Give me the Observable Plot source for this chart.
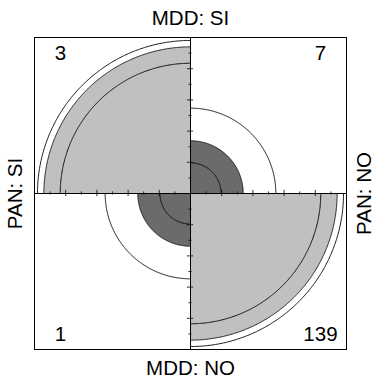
<!DOCTYPE html>
<html><head><meta charset="utf-8">
<script src="https://cdn.jsdelivr.net/npm/d3@7"></script>
<script src="https://cdn.jsdelivr.net/npm/@observablehq/plot@0.6"></script>
<style>body{margin:0;background:#fff;} svg{display:block}</style>
</head><body><div id="chart"></div>
<script>
// Cells of the 2x2 table (PAN x MDD)
const cells = ["PAN: SI / MDD: SI", "PAN: NO / MDD: SI", "PAN: SI / MDD: NO", "PAN: NO / MDD: NO"];
const counts = [3, 7, 1, 139];
// standardized quadrant radius (sqrt of standardized frequency)
const radius = [0.94, 0.338, 0.338, 0.94];
// 95% confidence rings for the odds ratio
const ciLower = [0.835, 0.547, 0.547, 0.835];
const ciUpper = [0.981, 0.196, 0.196, 0.981];
const diagonal = [true, false, false, true];
// margin labels
const rowLabels = ["PAN: SI", "PAN: NO"];
const colLabels = ["MDD: SI", "MDD: NO"];

// layout
const startAngle = [90, 0, 180, 270];
const cornerX = [-0.833, 0.833, -0.833, 0.833];
const cornerY = [0.895, 0.895, -0.905, -0.905];
const colors = {light: "#c0c0c0", dark: "#6b6b6b"};

function arcPts(r, a0, withCenter) {
  const pts = [];
  if (withCenter) pts.push({x: 0, y: 0});
  for (let k = 0; k <= 180; k++) {
    const a = (a0 + k / 2) * Math.PI / 180;
    pts.push({x: r * Math.cos(a), y: r * Math.sin(a)});
  }
  if (withCenter) pts.push({x: 0, y: 0});
  return pts;
}

const quadMarks = cells.map((c, i) =>
  Plot.line(arcPts(radius[i], startAngle[i], true), {
    x: "x", y: "y", fill: diagonal[i] ? colors.light : colors.dark,
    stroke: "black", strokeWidth: 0.8
  }));
const ringMarks = cells.flatMap((c, i) => [ciLower[i], ciUpper[i]].map(r =>
  Plot.line(arcPts(r, startAngle[i], false), {x: "x", y: "y", stroke: "black", strokeWidth: 0.9})));

const shortTicks = d3.range(-9, 10, 2).map(k => k / 10);
const longTicks = d3.range(-8, 9, 2).filter(k => k !== 0).map(k => k / 10);

const cornerText = counts.map((n, i) => ({x: cornerX[i], y: cornerY[i], t: String(n)}));
const sideText = [
  {x: 0, y: 1.12, t: colLabels[0], r: 0},
  {x: 0, y: -1.12, t: colLabels[1], r: 0},
  {x: -1.12, y: 0, t: rowLabels[0], r: -90},
  {x: 1.115, y: 0, t: rowLabels[1], r: -90}
];

const chart = Plot.plot({
  width: 374, height: 378,
  marginLeft: 34, marginRight: 28, marginTop: 37, marginBottom: 29,
  x: {domain: [-1, 1], axis: null},
  y: {domain: [-1, 1], axis: null},
  style: {fontFamily: "'Liberation Sans', Arial, sans-serif", background: "#fff", color: "black"},
  marks: [
    ...quadMarks,
    ...ringMarks,
    Plot.ruleY([0], {x1: -1, x2: 1, stroke: "black", strokeWidth: 1}),
    Plot.ruleX([0], {y1: -1, y2: 1, stroke: "black", strokeWidth: 1}),
    Plot.ruleX(shortTicks, {x: d => d, y1: -0.01, y2: 0.01, stroke: "black", strokeWidth: 0.8}),
    Plot.ruleX(longTicks, {x: d => d, y1: -0.02, y2: 0.02, stroke: "black", strokeWidth: 0.8}),
    Plot.ruleY(shortTicks, {y: d => d, x1: -0.01, x2: 0.01, stroke: "black", strokeWidth: 0.8}),
    Plot.ruleY(longTicks, {y: d => d, x1: -0.02, x2: 0.02, stroke: "black", strokeWidth: 0.8}),
    Plot.frame({stroke: "black", strokeWidth: 1}),
    Plot.text(cornerText, {x: "x", y: "y", text: "t", fontSize: 20.5, fill: "black"}),
    Plot.text(sideText, {x: "x", y: "y", text: "t", rotate: "r", fontSize: 20.5, fill: "black"})
  ]
});
document.getElementById("chart").appendChild(chart);
</script>
</body></html>
